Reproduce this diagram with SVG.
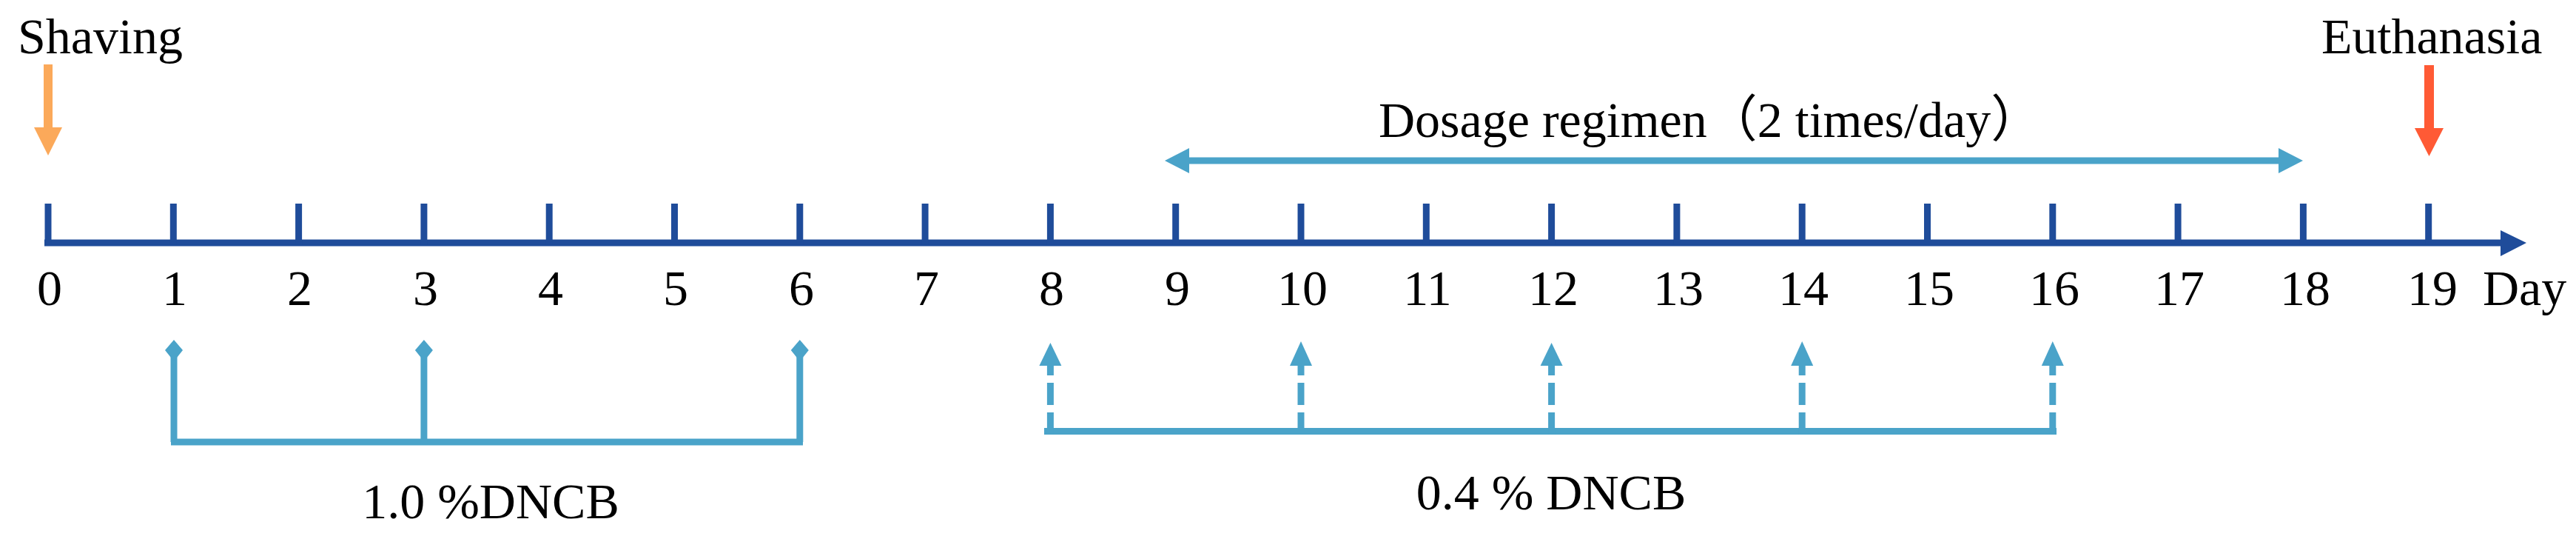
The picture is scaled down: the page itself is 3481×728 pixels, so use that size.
<svg xmlns="http://www.w3.org/2000/svg" width="3481" height="728" viewBox="0 0 3481 728">
<style>
.t{font-family:"Liberation Serif","Times New Roman",serif;font-size:68px;fill:#000}
.n{text-anchor:middle}
.ax{stroke:#1F4C9A;stroke-width:9;fill:none}
.axf{fill:#1F4C9A}
.lb{stroke:#4AA3C9;stroke-width:9;fill:none}
.lbf{fill:#4AA3C9}
.dash{stroke-dasharray:30 10}
</style>
<rect width="3481" height="728" fill="#fff"/>
<g id="axis">
<line class="ax" x1="60" y1="328" x2="3385" y2="328" stroke-width="10"/>
<polygon class="axf" points="3379,311 3414,328 3379,346"/>
<g id="ticks">
<line class="ax" x1="65" y1="275" x2="65" y2="330"/>
<line class="ax" x1="234.3" y1="275" x2="234.3" y2="330"/>
<line class="ax" x1="403.6" y1="275" x2="403.6" y2="330"/>
<line class="ax" x1="572.9" y1="275" x2="572.9" y2="330"/>
<line class="ax" x1="742.2" y1="275" x2="742.2" y2="330"/>
<line class="ax" x1="911.5" y1="275" x2="911.5" y2="330"/>
<line class="ax" x1="1080.8" y1="275" x2="1080.8" y2="330"/>
<line class="ax" x1="1250.1" y1="275" x2="1250.1" y2="330"/>
<line class="ax" x1="1419.4" y1="275" x2="1419.4" y2="330"/>
<line class="ax" x1="1588.7" y1="275" x2="1588.7" y2="330"/>
<line class="ax" x1="1758" y1="275" x2="1758" y2="330"/>
<line class="ax" x1="1927.3" y1="275" x2="1927.3" y2="330"/>
<line class="ax" x1="2096.6" y1="275" x2="2096.6" y2="330"/>
<line class="ax" x1="2265.9" y1="275" x2="2265.9" y2="330"/>
<line class="ax" x1="2435.2" y1="275" x2="2435.2" y2="330"/>
<line class="ax" x1="2604.5" y1="275" x2="2604.5" y2="330"/>
<line class="ax" x1="2773.8" y1="275" x2="2773.8" y2="330"/>
<line class="ax" x1="2943.1" y1="275" x2="2943.1" y2="330"/>
<line class="ax" x1="3112.4" y1="275" x2="3112.4" y2="330"/>
<line class="ax" x1="3281.7" y1="275" x2="3281.7" y2="330"/>
</g>
<g id="tick-labels" class="t n">
<text x="67" y="412">0</text>
<text x="236" y="412">1</text>
<text x="405" y="412">2</text>
<text x="575" y="412">3</text>
<text x="744" y="412">4</text>
<text x="913" y="412">5</text>
<text x="1083" y="412">6</text>
<text x="1252" y="412">7</text>
<text x="1421" y="412">8</text>
<text x="1591" y="412">9</text>
<text x="1760" y="412">10</text>
<text x="1929" y="412">11</text>
<text x="2099" y="412">12</text>
<text x="2268" y="412">13</text>
<text x="2437" y="412">14</text>
<text x="2607" y="412">15</text>
<text x="2776" y="412">16</text>
<text x="2945" y="412">17</text>
<text x="3115" y="412">18</text>
<text x="3287" y="412">19</text>
</g>
<text class="t" x="3355" y="412">Day</text>
</g>
<g id="shaving">
<text class="t" x="24" y="72">Shaving</text>
<rect x="59" y="87" width="12" height="86" fill="#FBA95A"/>
<polygon points="46,172 84,172 65,210" fill="#FBA95A"/>
</g>
<g id="euthanasia">
<text class="t" x="3137" y="72">Euthanasia</text>
<rect x="3276" y="88" width="13" height="86" fill="#FF5A35"/>
<polygon points="3263,173 3302,173 3282.5,211" fill="#FF5A35"/>
</g>
<g id="dosage">
<text class="t" x="1863" y="185">Dosage regimen<tspan font-family="'Noto Sans CJK SC',sans-serif">（</tspan>2 times/day<tspan font-family="'Noto Sans CJK SC',sans-serif">）</tspan></text>
<line class="lb" x1="1600" y1="217" x2="3085" y2="217" stroke-width="11"/>
<polygon class="lbf" points="1574,217 1607,200 1607,234"/>
<polygon class="lbf" points="3112,217 3079,200 3079,234"/>
</g>
<g id="dncb-1">
<text class="t n" x="663" y="700">1.0 %DNCB</text>
</g>
<g id="dncb-04">
<text class="t n" x="2096" y="688">0.4 % DNCB</text>
</g>
<g id="connectors">
<g id="bracket-1">
<line class="lb" x1="231" y1="597" x2="1085" y2="597" stroke-width="10"/>
<line class="lb" x1="235" y1="480" x2="235" y2="597"/>
<line class="lb" x1="572.9" y1="480" x2="572.9" y2="597"/>
<line class="lb" x1="1080.8" y1="480" x2="1080.8" y2="597"/>
<polygon class="lbf" points="235,459 247,473 235,488 223,473"/>
<polygon class="lbf" points="572.9,459 584.9,473 572.9,488 560.9,473"/>
<polygon class="lbf" points="1080.8,459 1092.8,473 1080.8,488 1068.8,473"/>
</g>
<g id="bracket-04">
<line class="lb" x1="1411" y1="582.5" x2="2779" y2="582.5" stroke-width="9"/>
<line class="lb dash" x1="1419.4" y1="587" x2="1419.4" y2="493"/>
<line class="lb dash" x1="1758" y1="587" x2="1758" y2="493"/>
<line class="lb dash" x1="2096.6" y1="587" x2="2096.6" y2="493"/>
<line class="lb dash" x1="2435.2" y1="587" x2="2435.2" y2="493"/>
<line class="lb dash" x1="2773.8" y1="587" x2="2773.8" y2="493"/>
<polygon class="lbf" points="1419.4,463 1434.4,494 1404.4,494"/>
<polygon class="lbf" points="1758,461 1773,494 1743,494"/>
<polygon class="lbf" points="2096.6,463 2111.6,494 2081.6,494"/>
<polygon class="lbf" points="2435.2,461 2450.2,494 2420.2,494"/>
<polygon class="lbf" points="2773.8,461 2788.8,494 2758.8,494"/>
</g>
</g>
</svg>
